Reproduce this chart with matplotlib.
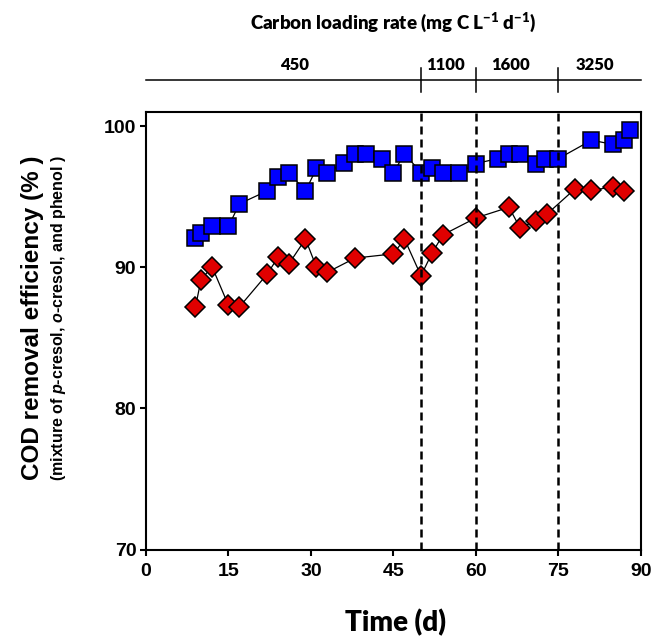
import matplotlib
matplotlib.use("Agg")
import matplotlib.pyplot as plt
import matplotlib.transforms as mtransforms

plt.rcParams["mathtext.fontset"] = "custom"
plt.rcParams["mathtext.rm"] = "Lato:weight=heavy"
plt.rcParams["mathtext.bf"] = "Lato:weight=heavy"
plt.rcParams["mathtext.it"] = "Liberation Sans:italic:bold"

# blue squares
blue_day = [9, 10, 12, 15, 17, 22, 24, 26, 29, 31, 33, 36, 38, 40, 43, 45,
            47, 50, 52, 54, 57, 60, 64, 66, 68, 71, 72.5, 75, 81, 85, 87, 88]
blue_cod = [92.1, 92.4, 92.9, 92.9, 94.5, 95.4, 96.4, 96.7, 95.4, 97.0, 96.7,
            97.4, 98.0, 98.0, 97.7, 96.7, 98.05, 96.7, 97.05, 96.7, 96.7, 97.35,
            97.7, 98.05, 98.05, 97.3, 97.7, 97.7, 99.0, 98.7, 99.0, 99.7]

# red diamonds
red_day = [9, 10, 12, 15, 17, 22, 24, 26, 29, 31, 33, 38, 45, 47, 50, 52, 54,
           60, 66, 68, 71, 73, 78, 81, 85, 87]
red_cod = [87.2, 89.1, 90.05, 87.3, 87.2, 89.5, 90.7, 90.25, 92.0, 90.0, 89.65,
           90.65, 90.95, 92.0, 89.4, 91.0, 92.3, 93.5, 94.25, 92.8, 93.3, 93.8,
           95.55, 95.45, 95.7, 95.4]

# carbon loading phases
phase_edges = [50, 60, 75]
phase_rates = ["450", "1100", "1600", "3250"]
rate_label_x = [27, 54.5, 66.2, 81.6]

fig = plt.figure(figsize=(6.52, 6.37), dpi=100)
ax = fig.add_axes([0.2239, 0.1372, 0.7592, 0.687])

ax.plot(blue_day, blue_cod, color="black", lw=0.9, zorder=2)
ax.plot(blue_day, blue_cod, ls="none", marker="s", ms=11.5, mfc="#0000ff",
        mec="black", mew=1.1, zorder=3)
ax.plot(red_day, red_cod, color="black", lw=0.9, zorder=2)
ax.plot(red_day, red_cod, ls="none", marker="D", ms=10.3, mfc="#e00000",
        mec="black", mew=1.1, zorder=4)

for d in phase_edges:
    ax.axvline(d, color="black", lw=1.8, dashes=(3.2, 2.0), zorder=5)

ax.set_xlim(0, 90)
ax.set_ylim(70, 101)
ax.set_xticks(range(0, 91, 15))
ax.set_yticks([70, 80, 90, 100])
for s in ax.spines.values():
    s.set_linewidth(1.5)
ax.tick_params(direction="out", length=4, width=1.5)
ax.tick_params(axis="x", pad=6)
ax.tick_params(axis="y", pad=3)
for lab in ax.get_xticklabels() + ax.get_yticklabels():
    lab.set_fontfamily("Liberation Sans")
    lab.set_fontweight("bold")
    lab.set_fontsize(14)

# top carbon loading bar
trans = mtransforms.blended_transform_factory(ax.transData, fig.transFigure)
ax.plot([0, 90], [0.8744, 0.8744], color="black", lw=1.1, transform=trans,
        clip_on=False)
for d in phase_edges:
    ax.plot([d, d], [0.8556, 0.8933], color="black", lw=1.1, transform=trans,
            clip_on=False)
for x, r in zip(rate_label_x, phase_rates):
    ax.text(x, 0.890, r, transform=trans, ha="center", va="baseline",
            family="Lato", weight="heavy", fontsize=12)

fig.text(0.6035, 0.9556, r"Carbon loading rate (mg C L$^{-1}$ d$^{-1}$)",
         ha="center", va="baseline", family="Lato", weight="heavy", fontsize=13.5)

fig.text(0.606, 0.009, "Time (d)", ha="center", va="baseline",
         family="Lato", weight="heavy", fontsize=20)

fig.text(0.0498, 0.5008, "COD removal efficiency (% )", rotation=90,
         ha="center", va="center", family="Liberation Sans", weight="bold",
         fontsize=17.5)
fig.text(0.089, 0.5008, r"(mixture of $p$-cresol, $o$-cresol, and phenol )",
         rotation=90, ha="center", va="center", family="Liberation Sans",
         weight="bold", fontsize=11.5)

fig.savefig("out.png", dpi=100)
